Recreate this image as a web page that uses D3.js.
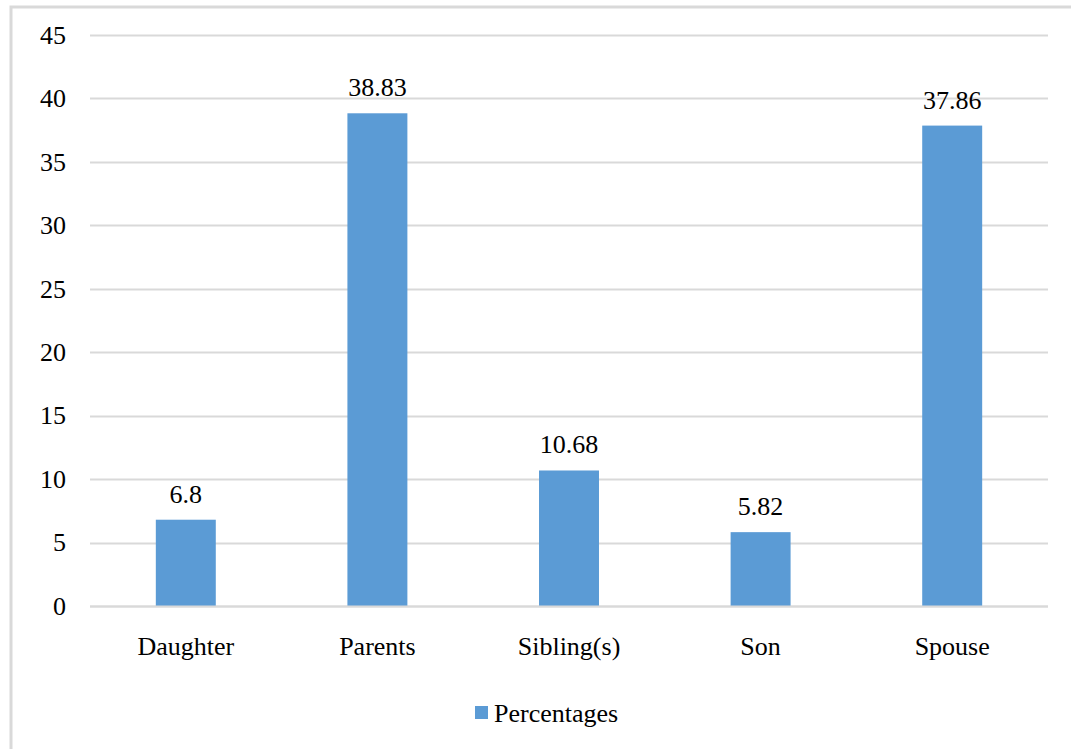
<!DOCTYPE html>
<html>
<head>
<meta charset="utf-8">
<script src="https://cdn.jsdelivr.net/npm/d3@7"></script>
<style>
  html, body { margin: 0; padding: 0; background: #fff; }
  svg { display: block; }
</style>
</head>
<body>
<script>
// Share of respondents by relationship
const categories = ["Daughter", "Parents", "Sibling(s)", "Son", "Spouse"];
const percentages = [6.8, 38.83, 10.68, 5.82, 37.86];
const yTicks = [0, 5, 10, 15, 20, 25, 30, 35, 40, 45];
const seriesName = "Percentages";

const W = 1071, H = 749;
const margin = { left: 90, right: 23, top: 35, bottom: 143 };
const barColor = "#5b9bd5";
const gridColor = "#d9d9d9";
const FONT = "'Liberation Serif', 'Times New Roman', 'DejaVu Serif', serif";
const FS = 26;

const svg = d3.select("body").append("svg")
  .attr("width", W).attr("height", H);

// outer frame of the chart area
svg.append("rect")
  .attr("x", 11).attr("y", 7)
  .attr("width", W + 20).attr("height", H + 20)
  .attr("fill", "#fff")
  .attr("stroke", gridColor).attr("stroke-width", 3);

const x = d3.scaleBand()
  .domain(categories)
  .range([margin.left, W - margin.right])
  .padding(0);

const y = d3.scaleLinear()
  .domain([0, 45])
  .range([H - margin.bottom, margin.top]);

// horizontal gridlines
svg.append("g")
  .selectAll("line")
  .data(yTicks)
  .join("line")
  .attr("x1", margin.left).attr("x2", W - margin.right)
  .attr("y1", d => Math.round(y(d)) + 0.5).attr("y2", d => Math.round(y(d)) + 0.5)
  .attr("stroke", gridColor).attr("stroke-width", 2);

// y axis labels
const yAxis = d3.axisLeft(y).tickValues(yTicks).tickSize(0).tickPadding(24);
const gy = svg.append("g")
  .attr("transform", `translate(${margin.left},0)`)
  .call(yAxis);
gy.select(".domain").remove();
gy.attr("font-family", null).attr("font-size", null);
gy.selectAll("text")
  .style("font-family", FONT)
  .style("font-size", FS + "px")
  .attr("fill", "#000");

// bars
const barW = x.bandwidth() * 0.313;
svg.append("g")
  .selectAll("rect")
  .data(categories)
  .join("rect")
  .attr("x", (d) => x(d) + x.bandwidth() / 2 - barW / 2)
  .attr("y", (d, i) => y(percentages[i]))
  .attr("width", barW)
  .attr("height", (d, i) => y(0) - y(percentages[i]))
  .attr("fill", barColor);

// baseline
svg.append("line")
  .attr("x1", margin.left).attr("x2", W - margin.right)
  .attr("y1", Math.round(y(0)) + 0.5).attr("y2", Math.round(y(0)) + 0.5)
  .attr("stroke", gridColor).attr("stroke-width", 2);

// value labels
svg.append("g")
  .selectAll("text")
  .data(categories)
  .join("text")
  .attr("x", d => x(d) + x.bandwidth() / 2)
  .attr("y", (d, i) => y(percentages[i]) - 17)
  .attr("text-anchor", "middle")
  .style("font-family", FONT)
  .style("font-size", FS + "px")
  .attr("fill", "#000")
  .text((d, i) => String(percentages[i]));

// x axis labels
const xAxis = d3.axisBottom(x).tickSize(0).tickPadding(31);
const gx = svg.append("g")
  .attr("transform", `translate(0,${y(0)})`)
  .call(xAxis);
gx.select(".domain").remove();
gx.attr("font-family", null).attr("font-size", null);
gx.selectAll("text")
  .style("font-family", FONT)
  .style("font-size", FS + "px")
  .attr("fill", "#000");

// legend
const legend = svg.append("g").attr("transform", "translate(475,706)");
legend.append("rect")
  .attr("width", 13).attr("height", 13)
  .attr("fill", barColor);
legend.append("text")
  .attr("x", 19).attr("y", 16)
  .style("font-family", FONT)
  .style("font-size", FS + "px")
  .attr("fill", "#000")
  .text(seriesName);
</script>
</body>
</html>
